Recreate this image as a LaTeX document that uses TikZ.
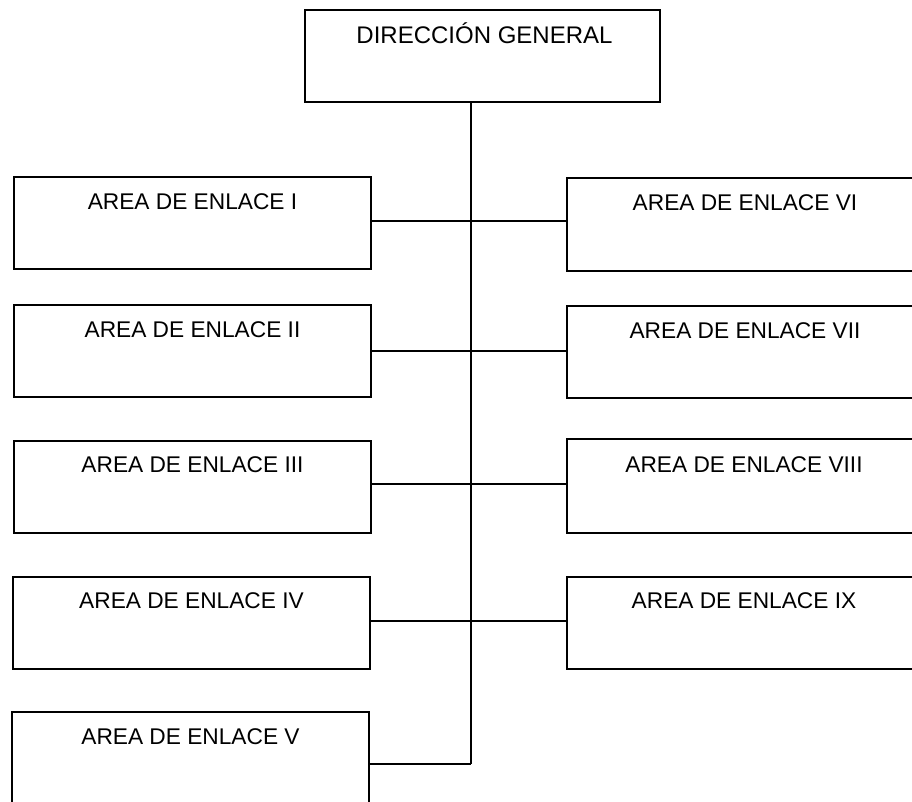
\documentclass[tikz,border=0pt]{standalone}
\usepackage{fontspec}
\setmainfont{Liberation Sans}
\begin{document}
\begin{tikzpicture}[x=1pt,y=-1pt,
  box/.style={draw=black, line width=1.8pt, rectangle, inner sep=0pt, outer sep=0pt},
  lbl/.style={font=\fontsize{22.7}{27}\selectfont, anchor=base, inner sep=0pt},
  conn/.style={draw=black, line width=1.7pt}]
\useasboundingbox (0,0) rectangle (912,801);
% top box
\node[box, minimum width=355pt, minimum height=92pt] (top) at (482.5,56) {};
\node[lbl, font=\fontsize{24}{28}\selectfont] (ttop) at (484.5,43) {DIRECCIÓN GENERAL};
% left boxes
\node[box, minimum width=357pt, minimum height=92pt] (b1) at (192.5,223) {};
\node[box, minimum width=357pt, minimum height=92pt] (b2) at (192.5,351) {};
\node[box, minimum width=357pt, minimum height=92pt] (b3) at (192.5,487) {};
\node[box, minimum width=357pt, minimum height=92pt] (b4) at (191.5,623) {};
\node[box, minimum width=357pt, minimum height=93pt] (b5) at (190.5,758.5) {};
% right boxes
\node[box, minimum width=354pt, minimum height=93pt] (b6) at (744,224.5) {};
\node[box, minimum width=354pt, minimum height=92pt] (b7) at (744,352) {};
\node[box, minimum width=354pt, minimum height=94pt] (b8) at (744,486) {};
\node[box, minimum width=354pt, minimum height=92pt] (b9) at (744,623) {};
% labels
\node[lbl] (t1) at (192.5,209) {AREA DE ENLACE I};
\node[lbl] (t2) at (192.5,337) {AREA DE ENLACE II};
\node[lbl] (t3) at (192.5,472) {AREA DE ENLACE III};
\node[lbl] (t4) at (191.5,608) {AREA DE ENLACE IV};
\node[lbl] (t5) at (190.5,744) {AREA DE ENLACE V};
\node[lbl] (t6) at (745,210) {AREA DE ENLACE VI};
\node[lbl] (t7) at (745,338) {AREA DE ENLACE VII};
\node[lbl] (t8) at (744,472) {AREA DE ENLACE VIII};
\node[lbl] (t9) at (744,608) {AREA DE ENLACE IX};
% trunk junctions
\coordinate (j1) at (471,221);
\coordinate (j2) at (471,351);
\coordinate (j3) at (471,484);
\coordinate (j4) at (471,621);
\coordinate (j5) at (471,764);
\draw[conn] (top.south -| j1) -- (j5);
\draw[conn] (b1.east |- j1) -- (b6.west |- j1);
\draw[conn] (b2.east |- j2) -- (b7.west |- j2);
\draw[conn] (b3.east |- j3) -- (b8.west |- j3);
\draw[conn] (b4.east |- j4) -- (b9.west |- j4);
\draw[conn] (b5.east |- j5) -- (j5);
\end{tikzpicture}
\end{document}
